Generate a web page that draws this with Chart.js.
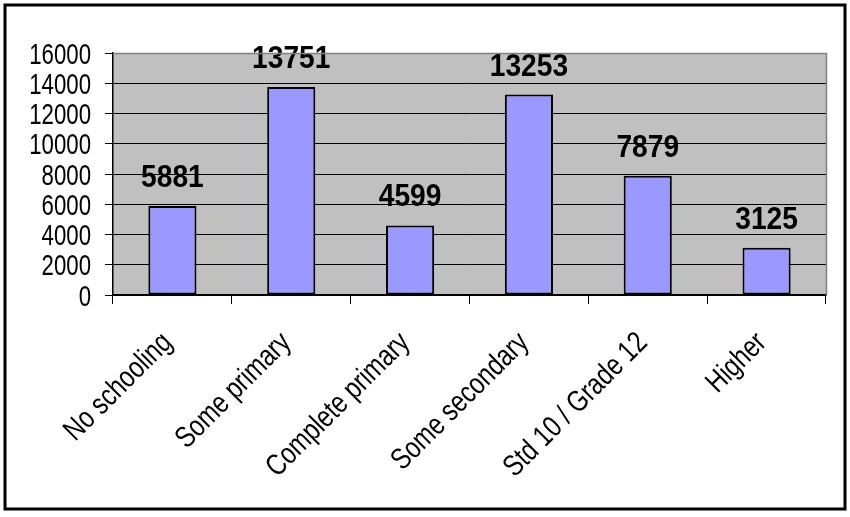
<!DOCTYPE html>
<html>
<head>
<meta charset="utf-8">
<script src="https://cdn.jsdelivr.net/npm/chart.js@4.4.1/dist/chart.umd.min.js"></script>
<style>
  html, body { margin: 0; padding: 0; background: #fff; }
  #wrap { width: 850px; height: 517px; position: relative; }
</style>
</head>
<body>
<div id="wrap"><canvas id="eduChart" width="850" height="517"></canvas></div>
<script>
const categories = ['No schooling', 'Some primary', 'Complete primary', 'Some secondary', 'Std 10 / Grade 12', 'Higher'];
const counts = [5881, 13751, 4599, 13253, 7879, 3125];
const yTicks = [0, 2000, 4000, 6000, 8000, 10000, 12000, 14000, 16000];

const FONT = "'Liberation Sans', Arial, sans-serif";
// the original text is narrow (Arial Narrow look), squeeze it horizontally
const SQUEEZE_Y = 0.74;
const SQUEEZE_X = 0.8;

// gray plot area + outer frame
const framePlugin = {
    id: 'frame',
    beforeDraw(chart) {
        const ctx = chart.ctx;
        const a = chart.chartArea;
        ctx.save();
        ctx.fillStyle = '#fff';
        ctx.fillRect(0, 0, chart.width, chart.height);
        ctx.fillStyle = '#C0C0C0';
        ctx.fillRect(a.left, a.top, a.right - a.left, a.bottom - a.top);
        ctx.restore();
    },
    afterDraw(chart) {
        const ctx = chart.ctx;
        const a = chart.chartArea;
        ctx.save();
        ctx.strokeStyle = '#808080';
        ctx.lineWidth = 1.5;
        ctx.beginPath();
        ctx.moveTo(a.left, a.top + 0.5);
        ctx.lineTo(a.right + 0.5, a.top + 0.5);
        ctx.lineTo(a.right + 0.5, a.bottom);
        ctx.stroke();
        ctx.strokeStyle = '#000';
        ctx.lineWidth = 3;
        ctx.strokeRect(5, 5, 840, 504);
        ctx.restore();
    }
};

// axis labels drawn by hand so they can be squeezed
const axisText = {
    id: 'axisText',
    afterDraw(chart) {
        const ctx = chart.ctx;
        const x = chart.scales.x;
        const y = chart.scales.y;
        ctx.save();
        ctx.fillStyle = '#000';
        ctx.font = '30px ' + FONT;
        ctx.textAlign = 'right';
        ctx.textBaseline = 'alphabetic';
        yTicks.forEach(v => {
            const py = y.getPixelForValue(v);
            ctx.save();
            ctx.translate(91, py + 10.5);
            ctx.scale(SQUEEZE_Y, 1);
            ctx.fillText(String(v), 0, 0);
            ctx.restore();
        });
        categories.forEach((c, i) => {
            const px = x.getPixelForValue(i);
            ctx.save();
            ctx.translate(px + 1, y.bottom + 49);
            ctx.rotate(-Math.PI / 4);
            ctx.scale(SQUEEZE_X, 1);
            ctx.fillText(c, 0, 0);
            ctx.restore();
        });
        ctx.restore();
    }
};

// bold value labels above bars
const valueLabels = {
    id: 'valueLabels',
    afterDatasetsDraw(chart) {
        const ctx = chart.ctx;
        const meta = chart.getDatasetMeta(0);
        ctx.save();
        ctx.font = 'bold 32px ' + FONT;
        ctx.fillStyle = '#000';
        ctx.textAlign = 'center';
        ctx.textBaseline = 'alphabetic';
        meta.data.forEach((bar, i) => {
            ctx.save();
            ctx.translate(bar.x, bar.y - 19);
            ctx.scale(0.88, 1);
            ctx.fillText(String(counts[i]), 0, 0);
            ctx.restore();
        });
        ctx.restore();
    }
};

new Chart(document.getElementById('eduChart'), {
    type: 'bar',
    data: {
        labels: categories,
        datasets: [{
            data: counts,
            backgroundColor: '#9999FF',
            borderColor: '#000',
            borderWidth: 2,
            borderSkipped: false,
            barPercentage: 0.405,
            categoryPercentage: 1.0
        }]
    },
    options: {
        responsive: false,
        animation: false,
        events: [],
        layout: { padding: { left: 0, top: 53, right: 24, bottom: 0 } },
        plugins: { legend: { display: false }, tooltip: { enabled: false } },
        scales: {
            x: {
                afterFit(scale) { scale.height = 222; },
                grid: {
                    offset: true,
                    drawOnChartArea: false,
                    color: '#000',
                    tickLength: 9,
                    lineWidth: 1
                },
                border: { color: '#000', width: 1.5 },
                ticks: { display: false }
            },
            y: {
                min: 0,
                max: 16000,
                afterFit(scale) { scale.width = 113; },
                grid: {
                    color: ctx => (ctx.tick && ctx.tick.value === 16000 ? '#808080' : '#000'),
                    tickColor: '#000',
                    tickLength: 8,
                    lineWidth: 1
                },
                border: { color: '#000', width: 1.5 },
                ticks: { display: false, stepSize: 2000 }
            }
        }
    },
    plugins: [framePlugin, valueLabels, axisText]
});
</script>
</body>
</html>
